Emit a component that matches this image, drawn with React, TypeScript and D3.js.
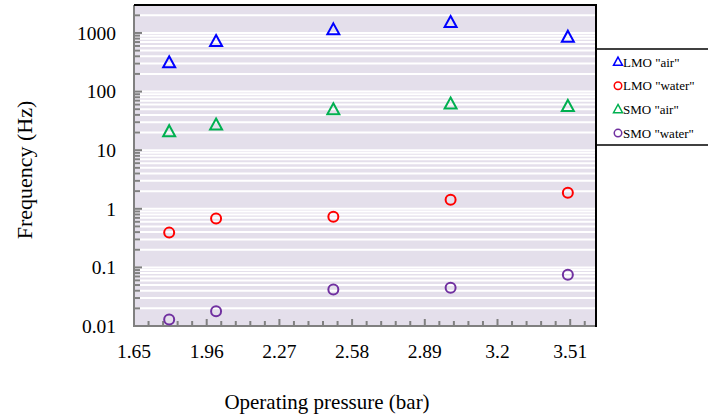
import React from "react";
import * as d3 from "d3";

const pressure = [1.8, 2.0, 2.5, 3.0, 3.5];
const lmoAir = [308, 711, 1125, 1500, 845];
const lmoWater = [0.392, 0.68, 0.73, 1.43, 1.88];
const smoAir = [20.6, 26.7, 48.8, 61, 55.6];
const smoWater = [0.0129, 0.0179, 0.042, 0.045, 0.075];
const xTickLabels = ["1.65", "1.96", "2.27", "2.58", "2.89", "3.2", "3.51"];
const yTickLabels = ["0.01", "0.1", "1", "10", "100", "1000"];

const seriesNames = ['LMO "air"', 'LMO "water"', 'SMO "air"', 'SMO "water"'];
const seriesColors = ["#0000ff", "#ff0000", "#00b050", "#7030a0"];
const seriesShapes = ["triangle", "circle", "triangle", "circle"];
const seriesValues = [lmoAir, lmoWater, smoAir, smoWater];

const W = 708, H = 414;
const L = 134, R = 596, T = 5, B = 326;
const FONT = "'Liberation Serif', 'Times New Roman', serif";

function Marker({ shape, color, x, y, s = 1 }: any) {
  if (shape === "triangle") {
    const h = 11 * s, w = 12 * s;
    const p = `M${x},${y - h * 0.6} L${x + w / 2},${y + h * 0.4} L${x - w / 2},${y + h * 0.4} Z`;
    return <path d={p} fill="none" stroke={color} strokeWidth={2 * s} strokeLinejoin="miter" />;
  }
  return <circle cx={x} cy={y} r={5 * s} fill="none" stroke={color} strokeWidth={2 * s} />;
}

export default function App() {
  const x = d3.scaleLinear().domain([1.65, 3.62]).range([L, R]);
  const y = d3.scaleLog().domain([0.01, 3000]).range([B, T]);

  const minorY: number[] = [];
  for (let e = -2; e <= 3; e++) {
    for (let m = 1; m <= 9; m++) {
      const v = m * Math.pow(10, e);
      if (v >= 0.01 && v <= 3000) minorY.push(v);
    }
  }
  const xMinor: number[] = [];
  for (let i = 0; ; i++) {
    const v = 1.65 + i * 0.062;
    if (v > 3.62) break;
    xMinor.push(v);
  }

  return (
    <svg width={W} height={H} style={{ position: "absolute", left: 0, top: 0 }}>
      <rect x={L} y={T} width={R - L} height={B - T} fill="#e4dfeb" />
      {minorY.map((v, i) => (
        <line key={i} x1={L} x2={R} y1={y(v)} y2={y(v)} stroke="#ffffff" strokeWidth={2} />
      ))}
      {/* y ticks */}
      {minorY.map((v, i) => {
        const major = Math.abs(Math.log10(v) - Math.round(Math.log10(v))) < 1e-9;
        return (
          <line key={"yt" + i} x1={L} x2={L + (major ? 8 : 6)} y1={y(v)} y2={y(v)} stroke="#808080" strokeWidth={2} />
        );
      })}
      {/* x ticks */}
      {xMinor.map((v, i) => (
        <line key={"xt" + i} x1={x(v)} x2={x(v)} y1={B} y2={B - (i % 5 === 0 ? 7 : 5)} stroke="#808080" strokeWidth={2} />
      ))}
      <line x1={L} x2={L} y1={T} y2={B + 1} stroke="#808080" strokeWidth={2} />
      <line x1={L} x2={R} y1={B} y2={B} stroke="#808080" strokeWidth={2} />
      <line x1={L} x2={R + 1} y1={T} y2={T} stroke="#000" strokeWidth={2} />
      <line x1={R} x2={R} y1={T} y2={B + 1} stroke="#000" strokeWidth={2} />

      {yTickLabels.map((t) => (
        <text key={t} x={116} y={y(+t)} dy="0.35em" textAnchor="end" fontFamily={FONT} fontSize={19.5} fill="#000">{t}</text>
      ))}
      {xTickLabels.map((t) => (
        <text key={t} x={x(+t)} y={358} textAnchor="middle" fontFamily={FONT} fontSize={19.5} fill="#000">{t}</text>
      ))}
      <text x={327} y={409} textAnchor="middle" fontFamily={FONT} fontSize={21} fill="#000">Operating pressure (bar)</text>
      <text transform={`translate(32,170) rotate(-90)`} textAnchor="middle" fontFamily={FONT} fontSize={22} fill="#000">Frequency (Hz)</text>

      {seriesValues.map((vals, si) =>
        vals.map((v, i) => (
          <Marker key={si + "-" + i} shape={seriesShapes[si]} color={seriesColors[si]} x={x(pressure[i])} y={y(v)} />
        ))
      )}

      {/* legend */}
      <line x1={R} x2={W} y1={49} y2={49} stroke="#000" strokeWidth={1.5} />
      <line x1={R} x2={W} y1={145} y2={145} stroke="#000" strokeWidth={1.5} />
      {seriesNames.map((n, i) => {
        const ly = 62 + i * 23.7;
        return (
          <g key={n}>
            <Marker shape={seriesShapes[i]} color={seriesColors[i]} x={618} y={ly} s={0.75} />
            <text x={623} y={ly} dy="0.35em" fontFamily={FONT} fontSize={13} fill="#000">{n}</text>
          </g>
        );
      })}
    </svg>
  );
}
